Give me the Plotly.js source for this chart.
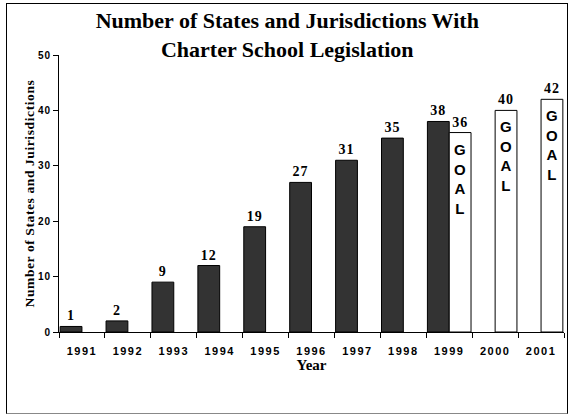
<!DOCTYPE html>
<html>
<head>
<meta charset="utf-8">
<script src="https://cdn.plot.ly/plotly-3.0.1.min.js"></script>
<style>
  html, body { margin: 0; padding: 0; background: #fff; }
  #wrap { position: relative; width: 570px; height: 416px; }
  #chart { width: 570px; height: 416px; }
  #frame { position: absolute; left: 6px; top: 3px; width: 562px; height: 411px;
           border: 1px solid #000; border-bottom-color: #888; box-sizing: border-box; pointer-events: none; }
  .xtick text { letter-spacing: 1.5px; }
  .ytick text { letter-spacing: 1px; }
  .ytitle { letter-spacing: 0.6px; }
  .bartext text, text.bartext { letter-spacing: 1px; }
</style>
</head>
<body>
<div id="wrap">
  <div id="chart"></div>
  <div id="frame"></div>
</div>
<script>
const years = ["1991","1992","1993","1994","1995","1996","1997","1998","1999","2000","2001"];
const actual = [1, 2, 9, 12, 19, 27, 31, 35, 38, null, null];
const goal = [null, null, null, null, null, null, null, null, 36, 40, 42];
const goalLabel = "G<br>O<br>A<br>L";
const yTicks = [0, 10, 20, 30, 40, 50];

const barGap = 0.05;

const labelFont = { family: "Liberation Serif, Times New Roman, serif", size: 14, color: "#000", weight: "bold" };

const traces = [
  {
    type: "bar", x: years, y: actual, name: "Actual",
    marker: { color: "#333333", line: { color: "#000", width: 1 } },
    text: actual.map(v => v === null ? "" : String(v)),
    textposition: "outside", textfont: labelFont, cliponaxis: false,
    hoverinfo: "x+y"
  },
  {
    type: "bar", x: years, y: goal, name: "Goal",
    marker: { color: "#ffffff", line: { color: "#000", width: 1 } },
    text: goal.map(v => v === null ? "" : String(v)),
    textposition: "outside", textfont: labelFont, cliponaxis: false,
    hoverinfo: "x+y"
  }
];

const annotations = [];
goal.forEach((v, i) => {
  if (v === null) return;
  annotations.push({
    x: i + (1 - barGap) / 4, y: v, xref: "x", yref: "y",
    text: goalLabel, showarrow: false, yanchor: "top", xanchor: "center",
    yshift: -6,
    font: { family: "Liberation Sans, Arial, sans-serif", size: 15, color: "#000", weight: "bold" }
  });
});

const layout = {
  width: 570, height: 416,
  margin: { l: 59, r: 6, t: 55, b: 84 },
  paper_bgcolor: "rgba(0,0,0,0)", plot_bgcolor: "#fff",
  barmode: "group", bargap: barGap, bargroupgap: 0,
  showlegend: false,
  title: {
    text: "Number of States and Jurisdictions With<br>Charter School Legislation",
    font: { family: "Liberation Serif, Times New Roman, serif", size: 22, color: "#000", weight: "bold" },
    x: 0.504, xref: "container", xanchor: "center",
    y: 0.932, yref: "container", yanchor: "top"
  },
  xaxis: {
    type: "category", categoryarray: years,
    showline: true, linecolor: "#000", linewidth: 1,
    ticks: "outside", tickson: "boundaries", ticklen: 5, tickcolor: "#000",
    ticklabelstandoff: 9,
    tickfont: { family: "Liberation Sans, Arial, sans-serif", size: 11, color: "#000", weight: "bold" },
    showgrid: false, zeroline: false,
    title: { text: "Year", standoff: 0,
      font: { family: "Liberation Serif, Times New Roman, serif", size: 15, color: "#000", weight: "bold" } }
  },
  yaxis: {
    range: [0, 50], tickvals: yTicks, ticktext: yTicks.map(String),
    showline: true, linecolor: "#000", linewidth: 1,
    ticks: "outside", ticklen: 5, tickcolor: "#000",
    tickfont: { family: "Liberation Sans, Arial, sans-serif", size: 10, color: "#000", weight: "bold" },
    showgrid: false, zeroline: false,
    title: { text: "Number of States and Juirisdictions", standoff: 0,
      font: { family: "Liberation Serif, Times New Roman, serif", size: 13.5, color: "#000", weight: "bold" } }
  },
  annotations: annotations
};

Plotly.newPlot("chart", traces, layout, { displayModeBar: false, staticPlot: true });
</script>
</body>
</html>
